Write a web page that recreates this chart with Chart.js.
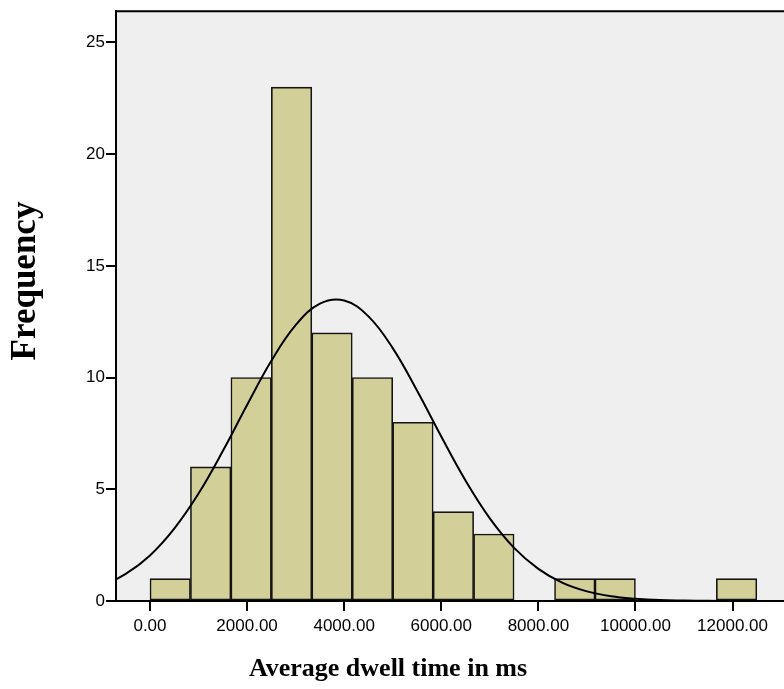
<!DOCTYPE html>
<html>
<head>
<meta charset="utf-8">
<script src="https://cdn.jsdelivr.net/npm/chart.js@4.4.1/dist/chart.umd.min.js"></script>
<style>
  html, body { margin: 0; padding: 0; background: #fff; }
  #histChart { display: block; }
</style>
</head>
<body>
<canvas id="histChart" width="784" height="689"></canvas>
<script>
// Histogram bins (centres, width 833.33 ms) and counts
const binCenters = [416.67, 1250, 2083.33, 2916.67, 3750, 4583.33, 5416.67, 6250, 7083.33, 8750, 9583.33, 12083.33];
const counts = [1, 6, 10, 23, 12, 10, 8, 4, 3, 1, 1, 1];

// Normal curve
const curveX = [-1000, -500, 0, 500, 1000, 1500, 2000, 2500, 3000, 3500, 4000, 4500, 5000, 5500, 6000, 6500, 7000, 7500, 8000, 8500, 9000, 9500, 10000, 10500, 11000, 11500, 12000, 12500, 13000, 13500];
const curveY = [0.67, 1.21, 2.04, 3.24, 4.81, 6.71, 8.77, 10.75, 12.35, 13.31, 13.45, 12.74, 11.32, 9.42, 7.36, 5.39, 3.70, 2.38, 1.44, 0.81, 0.43, 0.21, 0.10, 0.04, 0.02, 0.01, 0, 0, 0, 0];

// Axis ticks and titles
const xTicks = [0, 2000, 4000, 6000, 8000, 10000, 12000];
const yTicks = [0, 5, 10, 15, 20, 25];
const xTitle = "Average dwell time in ms";
const yTitle = "Frequency";

const canvas = document.getElementById("histChart");
const ctx = canvas.getContext("2d");

// grey plot area, top frame line, axis titles
const plotFrame = {
    id: "plotFrame",
    beforeDraw(chart) {
        const a = chart.chartArea;
        const c = chart.ctx;
        c.save();
        c.fillStyle = "#efefef";
        c.fillRect(a.left, a.top, a.right - a.left, a.bottom - a.top);
        c.strokeStyle = "#000";
        c.lineWidth = 2;
        c.beginPath();
        c.moveTo(a.left, a.top);
        c.lineTo(a.right, a.top);
        c.stroke();
        c.restore();
    },
    afterDraw(chart) {
        const c = chart.ctx;
        c.save();
        c.fillStyle = "#000";
        c.textAlign = "center";
        c.textBaseline = "middle";
        c.font = "bold 26px 'Liberation Serif', 'Times New Roman', serif";
        c.fillText(xTitle, 388, 669);
        c.translate(26, 281);
        c.rotate(-Math.PI / 2);
        c.font = "bold 35px 'Liberation Serif', 'Times New Roman', serif";
        c.fillText(yTitle, 0, 0);
        c.restore();
    }
};

new Chart(ctx, {
    type: "bar",
    data: {
        datasets: [{
            type: "line",
            data: curveX.map((x, i) => ({ x: x, y: curveY[i] })),
            borderColor: "#000",
            borderWidth: 2,
            pointRadius: 0,
            tension: 0.4,
            fill: false,
            order: 0
        }, {
            type: "bar",
            data: binCenters.map((x, i) => ({ x: x, y: counts[i] })),
            backgroundColor: "#d3cf98",
            borderColor: "#141414",
            borderWidth: 1.6,
            borderSkipped: false,
            barPercentage: 1,
            categoryPercentage: 1,
            order: 1
        }]
    },
    options: {
        responsive: false,
        animation: false,
        layout: { padding: { top: 7, right: 0, bottom: 0, left: 0 } },
        plugins: {
            legend: { display: false },
            tooltip: { enabled: false }
        },
        scales: {
            x: {
                type: "linear",
                offset: false,
                min: -700,
                max: 13060,
                afterBuildTicks: s => { s.ticks = xTicks.map(v => ({ value: v })); },
                afterFit: s => { s.height = 88; },
                grid: { offset: false, drawOnChartArea: false, drawTicks: true, tickLength: 10, color: "#000", lineWidth: 2 },
                border: { color: "#000", width: 2 },
                ticks: {
                    padding: 5,
                    color: "#000",
                    maxRotation: 0,
                    font: { family: "Liberation Sans, Arial", size: 17 },
                    callback: v => v.toFixed(2)
                }
            },
            y: {
                min: 0,
                max: 26.4,
                afterBuildTicks: s => { s.ticks = yTicks.map(v => ({ value: v })); },
                afterFit: s => { s.width = 116; },
                grid: { drawOnChartArea: false, drawTicks: true, tickLength: 10, color: "#000", lineWidth: 2 },
                border: { color: "#000", width: 2 },
                ticks: {
                    padding: 1,
                    color: "#000",
                    font: { family: "Liberation Sans, Arial", size: 17 }
                }
            }
        }
    },
    plugins: [plotFrame]
});
</script>
</body>
</html>
